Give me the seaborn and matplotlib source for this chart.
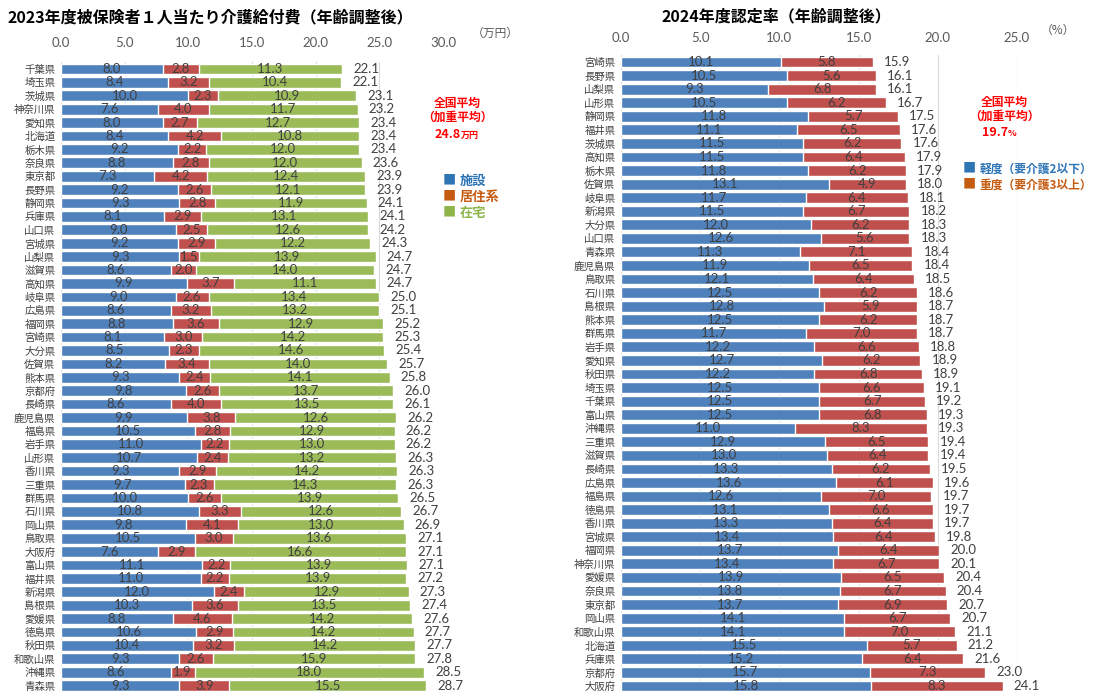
import numpy as np
import matplotlib
matplotlib.use("Agg")
import matplotlib.pyplot as plt
import seaborn as sns

# ---- left chart: 2023 benefit cost per insured person (10k yen)
prefs_cost = ["千葉県", "埼玉県", "茨城県", "神奈川県", "愛知県", "北海道", "栃木県", "奈良県", "東京都", "長野県",
              "静岡県", "兵庫県", "山口県", "宮城県", "山梨県", "滋賀県", "高知県", "岐阜県", "広島県", "福岡県",
              "宮崎県", "大分県", "佐賀県", "熊本県", "京都府", "長崎県", "鹿児島県", "福島県", "岩手県", "山形県",
              "香川県", "三重県", "群馬県", "石川県", "岡山県", "鳥取県", "大阪府", "富山県", "福井県", "新潟県",
              "島根県", "愛媛県", "徳島県", "秋田県", "和歌山県", "沖縄県", "青森県"]
facility = [8.0, 8.4, 10.0, 7.6, 8.0, 8.4, 9.2, 8.8, 7.3, 9.2,
            9.3, 8.1, 9.0, 9.2, 9.3, 8.6, 9.9, 9.0, 8.6, 8.8,
            8.1, 8.5, 8.2, 9.3, 9.8, 8.6, 9.9, 10.5, 11.0, 10.7,
            9.3, 9.7, 10.0, 10.8, 9.8, 10.5, 7.6, 11.1, 11.0, 12.0,
            10.3, 8.8, 10.6, 10.4, 9.3, 8.6, 9.3]
residential = [2.8, 3.2, 2.3, 4.0, 2.7, 4.2, 2.2, 2.8, 4.2, 2.6,
               2.8, 2.9, 2.5, 2.9, 1.5, 2.0, 3.7, 2.6, 3.2, 3.6,
               3.0, 2.3, 3.4, 2.4, 2.6, 4.0, 3.8, 2.8, 2.2, 2.4,
               2.9, 2.3, 2.6, 3.3, 4.1, 3.0, 2.9, 2.2, 2.2, 2.4,
               3.6, 4.6, 2.9, 3.2, 2.6, 1.9, 3.9]
home = [11.3, 10.4, 10.9, 11.7, 12.7, 10.8, 12.0, 12.0, 12.4, 12.1,
        11.9, 13.1, 12.6, 12.2, 13.9, 14.0, 11.1, 13.4, 13.2, 12.9,
        14.2, 14.6, 14.0, 14.1, 13.7, 13.5, 12.6, 12.9, 13.0, 13.2,
        14.2, 14.3, 13.9, 12.6, 13.0, 13.6, 16.6, 13.9, 13.9, 12.9,
        13.5, 14.2, 14.2, 14.2, 15.9, 18.0, 15.5]
cost_total = [22.1, 22.1, 23.1, 23.2, 23.4, 23.4, 23.4, 23.6, 23.9, 23.9,
              24.1, 24.1, 24.2, 24.3, 24.7, 24.7, 24.7, 25.0, 25.1, 25.2,
              25.3, 25.4, 25.7, 25.8, 26.0, 26.1, 26.2, 26.2, 26.2, 26.3,
              26.3, 26.3, 26.5, 26.7, 26.9, 27.1, 27.1, 27.1, 27.2, 27.3,
              27.4, 27.6, 27.7, 27.7, 27.8, 28.5, 28.7]

# ---- right chart: 2024 certification rate (%)
prefs_rate = ["宮崎県", "長野県", "山梨県", "山形県", "静岡県", "福井県", "茨城県", "高知県", "栃木県", "佐賀県",
              "岐阜県", "新潟県", "大分県", "山口県", "青森県", "鹿児島県", "鳥取県", "石川県", "島根県", "熊本県",
              "群馬県", "岩手県", "愛知県", "秋田県", "埼玉県", "千葉県", "富山県", "沖縄県", "三重県", "滋賀県",
              "長崎県", "広島県", "福島県", "徳島県", "香川県", "宮城県", "福岡県", "神奈川県", "愛媛県", "奈良県",
              "東京都", "岡山県", "和歌山県", "北海道", "兵庫県", "京都府", "大阪府"]
light = [10.1, 10.5, 9.3, 10.5, 11.8, 11.1, 11.5, 11.5, 11.8, 13.1,
         11.7, 11.5, 12.0, 12.6, 11.3, 11.9, 12.1, 12.5, 12.8, 12.5,
         11.7, 12.2, 12.7, 12.2, 12.5, 12.5, 12.5, 11.0, 12.9, 13.0,
         13.3, 13.6, 12.6, 13.1, 13.3, 13.4, 13.7, 13.4, 13.9, 13.8,
         13.7, 14.1, 14.1, 15.5, 15.2, 15.7, 15.8]
heavy = [5.8, 5.6, 6.8, 6.2, 5.7, 6.5, 6.2, 6.4, 6.2, 4.9,
         6.4, 6.7, 6.2, 5.6, 7.1, 6.5, 6.4, 6.2, 5.9, 6.2,
         7.0, 6.6, 6.2, 6.8, 6.6, 6.7, 6.8, 8.3, 6.5, 6.4,
         6.2, 6.1, 7.0, 6.6, 6.4, 6.4, 6.4, 6.7, 6.5, 6.7,
         6.9, 6.7, 7.0, 5.7, 6.4, 7.3, 8.3]
rate_total = [15.9, 16.1, 16.1, 16.7, 17.5, 17.6, 17.6, 17.9, 17.9, 18.0,
              18.1, 18.2, 18.3, 18.3, 18.4, 18.4, 18.5, 18.6, 18.7, 18.7,
              18.7, 18.8, 18.9, 18.9, 19.1, 19.2, 19.3, 19.3, 19.4, 19.4,
              19.5, 19.6, 19.7, 19.7, 19.7, 19.8, 20.0, 20.1, 20.4, 20.4,
              20.7, 20.7, 21.1, 21.2, 21.6, 23.0, 24.1]

BLUE, RED, GREEN = "#4F81BD", "#C0504D", "#9BBB59"
TXT = "#404040"
NUM_FONT = ["Lato", "DejaVu Sans"]

sns.set_theme(style="white")
plt.rcParams["font.family"] = ["Noto Sans CJK JP", "DejaVu Sans"]

W, H = 1101, 692
fig = plt.figure(figsize=(W / 100, H / 100), dpi=100)


def stacked(ax, prefs, series, colors, totals, xmax, pad):
    # draw cumulative sums back to front so segments look stacked
    cum = np.cumsum(np.array(series), axis=0)
    for k in range(len(series) - 1, -1, -1):
        sns.barplot(x=cum[k], y=prefs, order=prefs, orient="h", color=colors[k],
                    saturation=1, width=0.8, errorbar=None, ax=ax, zorder=2)
    for i in range(len(prefs)):
        left = 0
        for k in range(len(series)):
            v = series[k][i]
            ax.text(left + v / 2, i, f"{v:.1f}", ha="center", va="center",
                    fontsize=9.5, color=TXT, family=NUM_FONT, zorder=3)
            left += v
        ax.annotate(f"{totals[i]:.1f}", (cum[-1][i], i), xytext=(8, 0),
                    textcoords="offset points", ha="left", va="center",
                    fontsize=9.5, color=TXT, family=NUM_FONT, annotation_clip=False)
    ax.set_xlim(0, xmax)
    ax.set_ylim(len(prefs) - 0.5, -0.5)
    ax.set_xticks(np.arange(0, xmax + 0.1, 5))
    ax.set_xticklabels([f"{t:.1f}" for t in np.arange(0, xmax + 0.1, 5)], family=NUM_FONT)
    ax.xaxis.tick_top()
    ax.tick_params(axis="x", length=0, pad=pad, labelsize=9.5, labelcolor="#595959")
    ax.tick_params(axis="y", length=0, pad=4, labelsize=7.5, labelcolor=TXT)
    ax.grid(axis="x", color="#D9D9D9", lw=0.8)
    ax.set_axisbelow(True)
    ax.set_xlabel("")
    ax.set_ylabel("")
    for s in ax.spines.values():
        s.set_visible(False)


ax1 = fig.add_axes([61 / W, 1 - 692.3 / H, 382 / W, 630 / H])
stacked(ax1, prefs_cost, [facility, residential, home], [BLUE, RED, GREEN],
        cost_total, 30, 9.5)

ax2 = fig.add_axes([621 / W, 1 - 692.8 / H, 396 / W, 637.6 / H])
stacked(ax2, prefs_rate, [light, heavy], [BLUE, RED], rate_total, 25, 8)

# titles and units
fig.text(8 / W, 1 - 17 / H, "2023年度被保険者１人当たり介護給付費（年齢調整後）",
         ha="left", va="center", fontsize=11.5, weight="bold", color="black")
fig.text(776 / W, 1 - 16 / H, "2024年度認定率（年齢調整後）",
         ha="center", va="center", fontsize=11.5, weight="bold", color="black")
fig.text(495 / W, 1 - 33 / H, "（万円）", ha="center", va="center", fontsize=8.5, color="#595959")
fig.text(1058 / W, 1 - 30 / H, "（%）", ha="center", va="center", fontsize=8.5, color="#595959")

# national average notes
AVG_RED = "#FF0000"
fig.text(457 / W, 1 - 103 / H, "全国平均", ha="center", va="center", fontsize=8.5, weight="bold", color=AVG_RED)
fig.text(457 / W, 1 - 117 / H, "（加重平均）", ha="center", va="center", fontsize=8.5, weight="bold", color=AVG_RED)
fig.text(461 / W, 1 - 134 / H, "24.8", ha="right", va="center", fontsize=9, weight="bold", color=AVG_RED)
fig.text(461 / W, 1 - 135 / H, "万円", ha="left", va="center", fontsize=6.5, weight="bold", color=AVG_RED)

fig.text(1004 / W, 1 - 102 / H, "全国平均", ha="center", va="center", fontsize=8.5, weight="bold", color=AVG_RED)
fig.text(1004 / W, 1 - 116 / H, "（加重平均）", ha="center", va="center", fontsize=8.5, weight="bold", color=AVG_RED)
fig.text(1008 / W, 1 - 132 / H, "19.7", ha="right", va="center", fontsize=9, weight="bold", color=AVG_RED)
fig.text(1008 / W, 1 - 133 / H, "%", ha="left", va="center", fontsize=6.5, weight="bold", color=AVG_RED)

# legends
legend_left = [("施設", "#2E75B6"), ("居住系", "#C55A11"), ("在宅", "#8DB54A")]
for j, (lab, col) in enumerate(legend_left):
    y = 1 - (181 + 16 * j) / H
    fig.text(449 / W, y, "■", ha="center", va="center", fontsize=9.5, color=col)
    fig.text(460 / W, y, lab, ha="left", va="center", fontsize=9.5, weight="bold", color=col)

legend_right = [("軽度（要介護2以下）", "#2E75B6"), ("重度（要介護3以上）", "#C55A11")]
for j, (lab, col) in enumerate(legend_right):
    y = 1 - (169 + 16 * j) / H
    fig.text(969 / W, y, "■", ha="center", va="center", fontsize=9.5, color=col)
    fig.text(980 / W, y, lab, ha="left", va="center", fontsize=8.5, weight="bold", color=col)

fig.savefig("out.png", dpi=100)
